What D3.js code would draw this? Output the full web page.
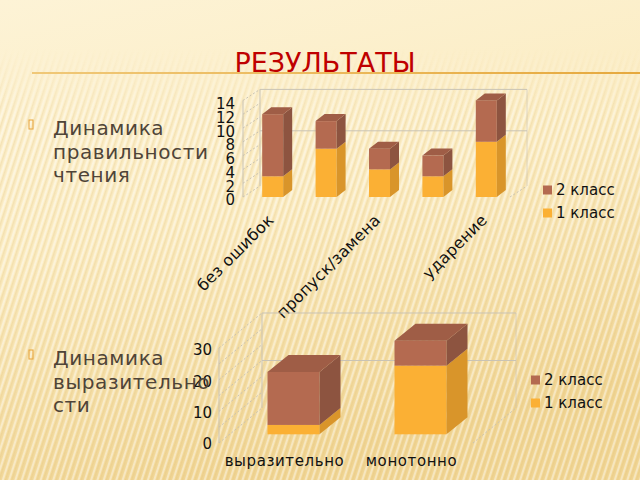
<!DOCTYPE html>
<html lang="ru">
<head>
<meta charset="UTF-8">
<title>Результаты</title>
<script src="https://d3js.org/d3.v7.min.js"></script>
<style>
  html, body { margin: 0; padding: 0; background: #fcf0cc; }
  svg { display: block; font-family: "DejaVu Sans", sans-serif; }
</style>
</head>
<body>
<div id="chart"></div>
<script>
  // данные: чтение
  const readCats = ["без ошибок", "повтор", "пропуск/замена", "искажение", "ударение"];
  const read1 = [3, 7, 4, 3, 8];   // 1 класс
  const read2 = [9, 4, 3, 3, 6];   // 2 класс
  const readTicks = [0, 2, 4, 6, 8, 10, 12, 14];

  // данные: выразительность
  const exprCats = ["выразительно", "монотонно"];
  const expr1 = [3, 22];
  const expr2 = [17, 8];
  const exprTicks = [0, 10, 20, 30];

  const seriesNames = ["2 класс", "1 класс"];

  const W = 640, H = 480;
  const svg = d3.select("#chart").append("svg").attr("width", W).attr("height", H);
  const defs = svg.append("defs");

  // фон
  const bg = defs.append("linearGradient").attr("id", "bg").attr("x1", 0).attr("y1", 0).attr("x2", 0.3).attr("y2", 1);
  bg.append("stop").attr("offset", 0).attr("stop-color", "#fdf3d6");
  bg.append("stop").attr("offset", 0.5).attr("stop-color", "#fbecc2");
  bg.append("stop").attr("offset", 1).attr("stop-color", "#f1d695");
  svg.append("rect").attr("width", W).attr("height", H).attr("fill", "url(#bg)");

  const pat = defs.append("pattern").attr("id", "stripes").attr("patternUnits", "userSpaceOnUse")
    .attr("width", 6).attr("height", 6).attr("patternTransform", "rotate(18)");
  pat.append("rect").attr("width", 2).attr("height", 6).attr("fill", "#fff").attr("opacity", 0.4);
  pat.append("rect").attr("x", 3).attr("width", 1.5).attr("height", 6).attr("fill", "#d9b76a").attr("opacity", 0.22);
  const fade = defs.append("linearGradient").attr("id", "fade").attr("x1", 0).attr("y1", 0).attr("x2", 0).attr("y2", 1);
  fade.append("stop").attr("offset", 0).attr("stop-color", "#fff").attr("stop-opacity", 0);
  fade.append("stop").attr("offset", 0.1).attr("stop-color", "#fff").attr("stop-opacity", 0);
  fade.append("stop").attr("offset", 0.25).attr("stop-color", "#fff").attr("stop-opacity", 1);
  defs.append("mask").attr("id", "fadeMask").append("rect").attr("width", W).attr("height", H).attr("fill", "url(#fade)");
  svg.append("rect").attr("width", W).attr("height", H).attr("fill", "url(#stripes)").attr("mask", "url(#fadeMask)");

  // заголовок
  svg.append("text").attr("x", 325).attr("y", 72).attr("text-anchor", "middle")
    .attr("font-size", 27).attr("fill", "#bf0000").text("РЕЗУЛЬТАТЫ");
  const lg = defs.append("linearGradient").attr("id", "line");
  lg.append("stop").attr("offset", 0).attr("stop-color", "#f0c878");
  lg.append("stop").attr("offset", 1).attr("stop-color", "#e6a93e");
  svg.append("rect").attr("x", 32).attr("y", 72).attr("width", 608).attr("height", 2).attr("fill", "url(#line)");

  // текст слева
  function bullet(y, lines) {
    svg.append("rect").attr("x", 29).attr("y", y - 15).attr("width", 4).attr("height", 9)
      .attr("fill", "none").attr("stroke", "#e8a43a").attr("stroke-width", 1);
    lines.forEach((t, i) => {
      svg.append("text").attr("x", 53).attr("y", y + i * 23.5).attr("font-size", 20)
        .attr("letter-spacing", 0.6).attr("fill", "#4f4438").text(t);
    });
  }
  bullet(135, ["Динамика", "правильности", "чтения"]);

  const colors = {
    brown: { front: "#b46a50", side: "#8d5440", top: "#9f5d46" },
    yellow: { front: "#fbb034", side: "#d9952a", top: "#e9a22f" }
  };

  function box(g, x0, w, yTop, yBot, d, c, withTop) {
    g.append("rect").attr("x", x0).attr("y", yTop).attr("width", w).attr("height", yBot - yTop).attr("fill", c.front);
    g.append("path").attr("fill", c.side)
      .attr("d", `M${x0 + w},${yTop}L${x0 + w + d.dx},${yTop + d.dy}L${x0 + w + d.dx},${yBot + d.dy}L${x0 + w},${yBot}Z`);
    if (withTop) {
      g.append("path").attr("fill", c.top)
        .attr("d", `M${x0},${yTop}L${x0 + d.dx},${yTop + d.dy}L${x0 + w + d.dx},${yTop + d.dy}L${x0 + w},${yTop}Z`);
    }
  }

  function chart3d(o) {
    const g = svg.append("g");
    const x = d3.scaleBand().domain(o.cats).range(o.xRange);
    const y = d3.scaleLinear().domain([0, o.max]).range(o.yRange);
    const wy = d3.scaleLinear().domain([0, o.max]).range(o.wallY);
    const x0 = o.xRange[0], x1 = o.xRange[1], wd = o.wallDepth;

    // стены
    const walls = g.append("g").attr("stroke", "#c9c3b4").attr("fill", "none");
    walls.append("line").attr("x1", x0 + wd.dx).attr("x2", x0 + wd.dx)
      .attr("y1", wy(o.max) + wd.dy).attr("y2", wy(0) + wd.dy);
    walls.append("line").attr("x1", x0).attr("x2", x0).attr("y1", wy(o.max)).attr("y2", wy(0));
    walls.append("line").attr("x1", x1 + wd.dx).attr("x2", x1 + wd.dx)
      .attr("y1", wy(o.max) + wd.dy).attr("y2", wy(0) + wd.dy).attr("opacity", 0.6);
    walls.selectAll(".grid").data(o.grid).enter().append("line")
      .attr("x1", x0 + wd.dx).attr("x2", x1 + wd.dx)
      .attr("y1", d => wy(d) + wd.dy).attr("y2", d => wy(d) + wd.dy);
    walls.selectAll(".diag").data(o.diag).enter().append("line")
      .attr("stroke-dasharray", "2,2")
      .attr("x1", x0).attr("y1", d => wy(d))
      .attr("x2", x0 + wd.dx).attr("y2", d => wy(d) + wd.dy);
    walls.append("line").attr("stroke-dasharray", "2,2")
      .attr("x1", x1).attr("y1", wy(0)).attr("x2", x1 + wd.dx).attr("y2", wy(0) + wd.dy);

    // столбцы
    const bars = g.append("g");
    o.cats.forEach((c, i) => {
      const bx = x(c) + (x.bandwidth() - o.barW) / 2 + o.shift;
      const a = o.s1[i], b = o.s1[i] + o.s2[i];
      box(bars, bx, o.barW, y(a), y(0), o.barDepth, colors.yellow, false);
      box(bars, bx, o.barW, y(b), y(a), o.barDepth, colors.brown, true);
    });

    // ось значений
    const ay = d3.scaleLinear().domain([0, o.max]).range(o.labelY);
    const axis = g.append("g").attr("transform", `translate(${o.labelX},0)`)
      .call(d3.axisLeft(ay).tickValues(o.ticks).tickSize(0).tickPadding(0));
    axis.select(".domain").remove();
    axis.selectAll("text").attr("font-size", 15).attr("fill", "#111").attr("font-family", "DejaVu Sans");

    // подписи категорий
    const lab = g.append("g");
    o.cats.forEach((c, i) => {
      if (o.labelEvery && i % o.labelEvery) return;
      const cx = x(c) + x.bandwidth() / 2;
      const t = lab.append("text").attr("font-size", o.catSize).attr("fill", "#111")
        .attr("letter-spacing", o.catSpacing).text(c);
      if (o.rotate) {
        t.attr("text-anchor", "end").attr("transform", `translate(${cx + o.catDx},${o.catY}) rotate(-45)`);
      } else {
        t.attr("text-anchor", "middle").attr("x", cx + o.catDx).attr("y", o.catY);
      }
    });

    // легенда
    const leg = g.append("g").attr("transform", `translate(${o.legend[0]},${o.legend[1]})`);
    [colors.brown.front, colors.yellow.front].forEach((col, i) => {
      leg.append("rect").attr("x", 0).attr("y", i * 23 - 4.5).attr("width", 9).attr("height", 9).attr("fill", col);
      leg.append("text").attr("x", 13).attr("y", i * 23).attr("dy", "0.35em")
        .attr("font-size", 15).attr("fill", "#111").text(seriesNames[i]);
    });
  }

  chart3d({
    cats: readCats, s1: read1, s2: read2, max: 14,
    xRange: [243, 510], yRange: [197, 100.4], wallY: [197, 100.4],
    wallDepth: { dx: 17, dy: -11 }, barW: 21, barDepth: { dx: 9, dy: -7 }, shift: 3,
    grid: [8, 14], diag: readTicks, ticks: readTicks,
    labelX: 235, labelY: [200, 104],
    rotate: true, labelEvery: 2, catY: 221, catDx: 5, catSize: 16, catSpacing: 0.3,
    legend: [543, 190]
  });

  chart3d({
    cats: exprCats, s1: expr1, s2: expr2, max: 30,
    xRange: [219, 473], yRange: [434.3, 340.7], wallY: [443, 348],
    wallDepth: { dx: 43, dy: -35 }, barW: 52, barDepth: { dx: 21, dy: -17 }, shift: 11,
    grid: [15, 30], diag: [0, 5, 10, 15, 20, 25, 30], ticks: exprTicks,
    labelX: 212, labelY: [444, 350],
    rotate: false, catY: 466, catDx: 2, catSize: 15, catSpacing: 0.6,
    legend: [531, 380]
  });

  bullet(365, ["Динамика", "выразительно", "сти"]);
</script>
</body>
</html>
